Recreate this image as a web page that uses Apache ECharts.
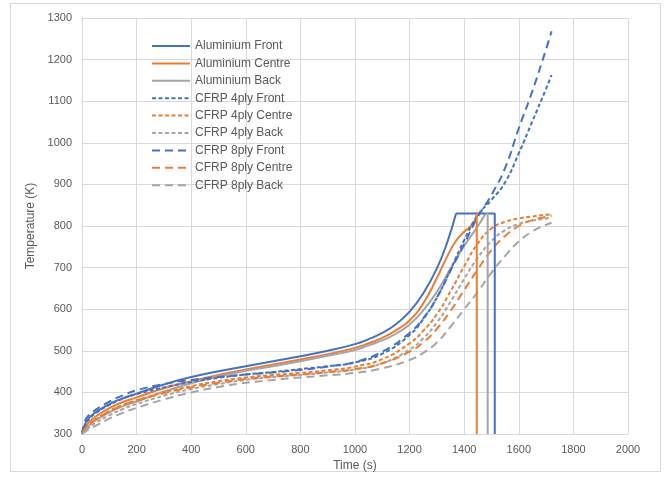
<!DOCTYPE html>
<html>
<head>
<meta charset="utf-8">
<script src="https://cdn.jsdelivr.net/npm/echarts@6/dist/echarts.min.js"></script>
<style>
  html, body { margin: 0; padding: 0; background: #fff; }
  #frame { position: absolute; left: 10px; top: 3px; width: 649px; height: 467px; border: 1px solid #d9d9d9; }
  #chart { position: absolute; left: 0; top: 0; width: 665px; height: 477px; }
</style>
</head>
<body>
<div id="frame"></div>
<div id="chart"></div>
<script>
// Aluminium: rising part (smooth), then plateau + failure drop
var alFrontTime = [0, 10, 25, 50, 100, 150, 200, 300, 400, 500, 600, 700, 800, 900, 1000, 1050, 1100, 1150, 1200, 1250, 1300, 1340, 1370];
var alFrontTemp = [300, 322, 338, 352, 372, 386, 397, 419, 437, 451, 463, 475, 487, 500, 516, 528, 543, 564, 594, 638, 698, 765, 830];
var alFrontTopTime = [1370, 1512, 1512];
var alFrontTopTemp = [830, 830, 300];

var alCentreTime = [0, 10, 25, 50, 100, 150, 200, 300, 400, 500, 600, 700, 800, 900, 1000, 1050, 1100, 1150, 1200, 1250, 1300, 1340, 1373, 1400, 1425, 1440, 1446];
var alCentreTemp = [300, 315, 328, 342, 362, 377, 388, 410, 427, 442, 455, 467, 479, 492, 507, 518, 531, 549, 573, 614, 675, 730, 767, 786, 800, 815, 832];
var alCentreTopTime = [1446, 1446];
var alCentreTopTemp = [832, 300];

var alBackTime = [0, 10, 25, 50, 100, 150, 200, 300, 400, 500, 600, 700, 800, 900, 1000, 1050, 1100, 1150, 1200, 1250, 1300, 1350, 1400, 1440, 1465, 1478];
var alBackTemp = [300, 310, 320, 333, 352, 367, 378, 402, 422, 438, 452, 463, 475, 488, 502, 513, 525, 541, 563, 597, 642, 698, 752, 790, 815, 830];
var alBackTopTime = [1478, 1486, 1486];
var alBackTopTemp = [830, 830, 300];

// CFRP laminates share one time base
var cfrpTime = [0, 10, 25, 50, 100, 150, 200, 300, 400, 500, 600, 700, 800, 900, 1000, 1100, 1200, 1250, 1300, 1350, 1400, 1450, 1500, 1550, 1600, 1650, 1700, 1720];
var ply4Front  = [300, 320, 335, 350, 370, 385, 396, 412, 425, 435, 443, 449, 456, 463, 472, 493, 538, 576, 628, 695, 766, 826, 863, 905, 975, 1052, 1130, 1163];
var ply4Centre = [300, 312, 322, 335, 355, 370, 381, 400, 415, 427, 436, 442, 447, 453, 462, 480, 518, 548, 588, 643, 703, 758, 794, 810, 818, 823, 827, 828];
var ply4Back   = [300, 307, 315, 327, 345, 360, 372, 392, 408, 420, 430, 437, 442, 448, 455, 470, 503, 530, 568, 618, 673, 724, 764, 790, 805, 813, 818, 820];
var ply8Front  = [300, 330, 345, 358, 378, 393, 405, 420, 430, 437, 443, 448, 454, 462, 473, 498, 543, 578, 628, 693, 757, 822, 875, 940, 1035, 1125, 1225, 1268];
var ply8Centre = [300, 312, 322, 335, 354, 369, 380, 398, 412, 423, 432, 438, 443, 449, 456, 470, 498, 520, 553, 596, 646, 696, 742, 776, 800, 814, 822, 825];
var ply8Back   = [300, 305, 311, 320, 337, 351, 363, 383, 400, 413, 423, 430, 436, 441, 447, 458, 478, 495, 520, 558, 600, 642, 688, 728, 763, 787, 803, 808];

var names = ['Aluminium Front', 'Aluminium Centre', 'Aluminium Back',
             'CFRP 4ply Front', 'CFRP 4ply Centre', 'CFRP 4ply Back',
             'CFRP 8ply Front', 'CFRP 8ply Centre', 'CFRP 8ply Back'];

var BLUE = '#4472C4', ORANGE = '#ED7D31', GREY = '#A5A5A5';
var shortDash = [4, 2.5];
var longDash = [8, 5];

function pairs(xs, ys) {
  return xs.map(function (x, i) { return [x, ys[i]]; });
}

function line(name, xs, ys, color, dash, smooth) {
  return {
    name: name,
    type: 'line',
    data: pairs(xs, ys),
    smooth: smooth,
    symbol: 'none',
    lineStyle: { color: color, width: 2, type: dash || 'solid' },
    itemStyle: { color: color },
    emphasis: { disabled: true },
    z: 3
  };
}

var series = [
  line(names[0], alFrontTime, alFrontTemp, BLUE, null, 0.5),
  line(names[1], alCentreTime, alCentreTemp, ORANGE, null, 0.5),
  line(names[2], alBackTime, alBackTemp, GREY, null, 0.5),
  line(names[3], cfrpTime, ply4Front, BLUE, shortDash, 0.5),
  line(names[4], cfrpTime, ply4Centre, ORANGE, shortDash, 0.5),
  line(names[5], cfrpTime, ply4Back, GREY, shortDash, 0.5),
  line(names[6], cfrpTime, ply8Front, BLUE, longDash, 0.5),
  line(names[7], cfrpTime, ply8Centre, ORANGE, longDash, 0.5),
  line(names[8], cfrpTime, ply8Back, GREY, longDash, 0.5),
  line(names[0], alFrontTopTime, alFrontTopTemp, BLUE, null, false),
  line(names[1], alCentreTopTime, alCentreTopTemp, ORANGE, null, false),
  line(names[2], alBackTopTime, alBackTopTemp, GREY, null, false)
];

var chart = echarts.init(document.getElementById('chart'), null, { renderer: 'canvas' });
var font = 'Liberation Sans';
chart.setOption({
  animation: false,
  backgroundColor: 'transparent',
  textStyle: { fontFamily: font },
  grid: { left: 82, right: 37, top: 18, bottom: 43, containLabel: false },
  legend: {
    data: names,
    orient: 'vertical',
    left: 146,
    top: 34,
    itemWidth: 38,
    itemHeight: 14,
    itemGap: 3.4,
    itemStyle: { opacity: 0 },
    textStyle: { color: '#595959', fontSize: 12, fontFamily: font, lineHeight: 14 },
    selectedMode: false
  },
  xAxis: {
    type: 'value',
    min: 0, max: 2000, interval: 200,
    name: 'Time (s)',
    nameLocation: 'middle',
    nameGap: 24,
    nameTextStyle: { color: '#595959', fontSize: 12, fontFamily: font },
    axisLine: { show: true, lineStyle: { color: '#d9d9d9' } },
    axisTick: { show: false },
    axisLabel: { color: '#595959', fontSize: 11, margin: 10, formatter: function (v) { return String(v); } },
    splitLine: { show: true, lineStyle: { color: '#d9d9d9', width: 1 } }
  },
  yAxis: {
    type: 'value',
    min: 300, max: 1300, interval: 100,
    name: 'Temperature (K)',
    nameLocation: 'middle',
    nameGap: 40,
    nameRotate: 90,
    nameTextStyle: { color: '#595959', fontSize: 12, fontFamily: font },
    axisLine: { show: true, lineStyle: { color: '#d9d9d9' } },
    axisTick: { show: false },
    axisLabel: { color: '#595959', fontSize: 11, margin: 10, formatter: function (v) { return String(v); } },
    splitLine: { show: true, lineStyle: { color: '#d9d9d9', width: 1 } }
  },
  series: series
});
</script>
</body>
</html>
